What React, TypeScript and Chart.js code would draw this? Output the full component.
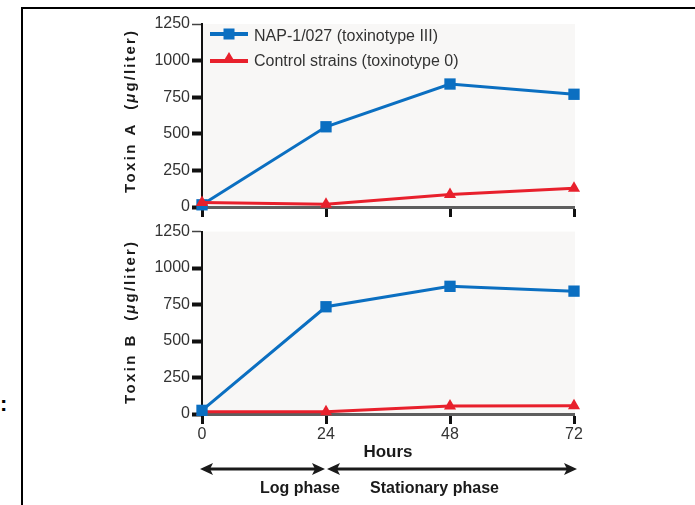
import { useEffect, useRef } from 'react';
import { Chart, registerables } from 'chart.js';

Chart.register(...registerables);

// Sampling times (hours) and toxin concentrations (µg/liter)
const hours = [0, 24, 48, 72];
const toxinANap = [15, 548, 840, 770];
const toxinACtrl = [30, 18, 85, 128];
const toxinBNap = [25, 735, 875, 842];
const toxinBCtrl = [15, 15, 55, 57];

const yTickValues = [0, 250, 500, 750, 1000, 1250];
const xTickValues = [0, 24, 48, 72];

const seriesLabels = ['NAP-1/027 (toxinotype III)', 'Control strains (toxinotype 0)'];
const panelTitles = ['Toxin A', 'Toxin B'];
const xTitle = 'Hours';
const phaseLabels = ['Log phase', 'Stationary phase'];

const BLUE = '#0b6fc1';
const RED = '#e8202c';
const TEXT = '#333333';
const DARK = '#1a1a1a';
const PLOT_BG = '#f8f7f6';
const FONT = "'Liberation Sans', Arial, sans-serif";

function drawYTitle(ctx: CanvasRenderingContext2D, cx: number, cy: number, name: string) {
  const parts: [string, string, number][] = [
    [name, `bold 15px ${FONT}`, 2.4],
    ['  (', `bold 15px ${FONT}`, 2.1],
    ['\u03bc', `italic bold 15px ${FONT}`, 2.1],
    ['g/liter)', `bold 15px ${FONT}`, 2.1],
  ];
  ctx.save();
  ctx.translate(cx, cy);
  ctx.rotate(-Math.PI / 2);
  ctx.fillStyle = DARK;
  ctx.textBaseline = 'middle';
  ctx.textAlign = 'left';
  const c = ctx as any;
  let total = 0;
  const widths = parts.map(([t, f, s]) => {
    ctx.font = f;
    c.letterSpacing = `${s}px`;
    const w = ctx.measureText(t).width;
    total += w;
    return w;
  });
  let x = -total / 2;
  parts.forEach(([t, f, s], i) => {
    ctx.font = f;
    c.letterSpacing = `${s}px`;
    ctx.fillText(t, x, 0);
    x += widths[i];
  });
  c.letterSpacing = '0px';
  ctx.restore();
}

function drawArrowHead(ctx: CanvasRenderingContext2D, tipX: number, y: number, dir: number) {
  const len = 13;
  const half = 6;
  ctx.beginPath();
  ctx.moveTo(tipX, y);
  ctx.lineTo(tipX - dir * len, y - half);
  ctx.lineTo(tipX - dir * (len - 3), y);
  ctx.lineTo(tipX - dir * len, y + half);
  ctx.closePath();
  ctx.fill();
}

function drawDoubleArrow(ctx: CanvasRenderingContext2D, x1: number, x2: number, y: number) {
  ctx.save();
  ctx.strokeStyle = DARK;
  ctx.fillStyle = DARK;
  ctx.lineWidth = 3;
  ctx.beginPath();
  ctx.moveTo(x1 + 6, y);
  ctx.lineTo(x2 - 6, y);
  ctx.stroke();
  drawArrowHead(ctx, x1, y, -1);
  drawArrowHead(ctx, x2, y, 1);
  ctx.restore();
}

function drawLegend(ctx: CanvasRenderingContext2D) {
  const x0 = 210;
  const x1 = 248;
  const cx = (x0 + x1) / 2;
  ctx.save();
  // NAP-1/027 entry
  ctx.strokeStyle = BLUE;
  ctx.fillStyle = BLUE;
  ctx.lineWidth = 4;
  ctx.beginPath();
  ctx.moveTo(x0, 34);
  ctx.lineTo(x1, 34);
  ctx.stroke();
  ctx.fillRect(cx - 5.5, 34 - 5.5, 11, 11);
  // Control strains entry
  ctx.strokeStyle = RED;
  ctx.fillStyle = RED;
  ctx.beginPath();
  ctx.moveTo(x0, 61);
  ctx.lineTo(x1, 61);
  ctx.stroke();
  ctx.beginPath();
  ctx.moveTo(cx, 52);
  ctx.lineTo(cx + 6, 62);
  ctx.lineTo(cx - 6, 62);
  ctx.closePath();
  ctx.fill();

  ctx.fillStyle = TEXT;
  ctx.font = `16px ${FONT}`;
  ctx.textAlign = 'left';
  ctx.textBaseline = 'alphabetic';
  ctx.fillText(seriesLabels[0], 254, 41);
  ctx.fillText(seriesLabels[1], 254, 66);
  ctx.restore();
}

type PanelOpts = {
  nap: number[];
  ctrl: number[];
  padTop: number;
  xHeight: number;
  showXLabels: boolean;
  title: string;
  titleY: number;
  redOnTop: boolean;
  decorate: (chart: any) => void;
};

function panelConfig(o: PanelOpts): any {
  const toPoints = (vals: number[]) => hours.map((h, i) => ({ x: h, y: vals[i] }));
  return {
    type: 'line',
    data: {
      datasets: [
        {
          label: seriesLabels[0],
          data: toPoints(o.nap),
          borderColor: BLUE,
          backgroundColor: BLUE,
          borderWidth: 3,
          pointStyle: 'rect',
          pointRadius: 8,
          pointBorderWidth: 0,
          tension: 0,
          clip: false,
          order: o.redOnTop ? 1 : 0,
        },
        {
          label: seriesLabels[1],
          data: toPoints(o.ctrl),
          borderColor: RED,
          backgroundColor: RED,
          borderWidth: 3,
          pointStyle: 'triangle',
          pointRadius: 7,
          pointBorderWidth: 0,
          tension: 0,
          clip: false,
          order: o.redOnTop ? 0 : 1,
        },
      ],
    },
    options: {
      responsive: false,
      animation: false,
      devicePixelRatio: 1,
      events: [],
      layout: { padding: { top: o.padTop, left: 0, right: 121, bottom: 0 } },
      plugins: { legend: { display: false }, tooltip: { enabled: false } },
      scales: {
        x: {
          type: 'linear',
          min: 0,
          max: 72,
          afterBuildTicks: (s: any) => {
            s.ticks = xTickValues.map((v) => ({ value: v }));
          },
          afterFit: (s: any) => {
            s.height = o.xHeight;
          },
          ticks: {
            display: o.showXLabels,
            color: TEXT,
            font: { family: FONT, size: 16 },
            padding: 1,
            maxRotation: 0,
            autoSkip: false,
          },
          grid: {
            drawOnChartArea: false,
            drawTicks: true,
            tickLength: 10,
            tickWidth: 3,
            tickColor: '#111',
          },
          border: { display: true, color: '#5e5e5e', width: 3 },
        },
        y: {
          type: 'linear',
          min: 0,
          max: 1250,
          afterBuildTicks: (s: any) => {
            s.ticks = yTickValues.map((v) => ({ value: v }));
          },
          afterFit: (s: any) => {
            s.width = 202;
          },
          ticks: {
            color: TEXT,
            font: { family: FONT, size: 16 },
            padding: 2,
            callback: (v: any) => String(v),
          },
          grid: {
            drawOnChartArea: false,
            drawTicks: true,
            tickLength: 10,
            tickWidth: (c: any) => (c.tick && c.tick.value === 1250 ? 1.5 : 4),
            tickColor: (c: any) => (c.tick && c.tick.value === 1250 ? '#444' : '#111'),
          },
          border: { display: true, color: '#111', width: 2 },
        },
      },
    },
    plugins: [
      {
        id: 'panelDecor',
        beforeDraw(chart: any) {
          const { ctx, chartArea } = chart;
          ctx.save();
          ctx.fillStyle = PLOT_BG;
          ctx.fillRect(chartArea.left, chartArea.top, chartArea.right - chartArea.left + 1, chartArea.bottom - chartArea.top);
          ctx.restore();
        },
        afterDraw(chart: any) {
          drawYTitle(chart.ctx, 131, o.titleY, o.title);
          o.decorate(chart);
        },
      },
    ],
  };
}

export default function App() {
  const topRef = useRef<HTMLCanvasElement>(null);
  const bottomRef = useRef<HTMLCanvasElement>(null);

  useEffect(() => {
    const top = new Chart(
      topRef.current!,
      panelConfig({
        nap: toxinANap,
        ctrl: toxinACtrl,
        padTop: 24,
        xHeight: 13,
        showXLabels: false,
        title: panelTitles[0],
        titleY: 111,
        redOnTop: true,
        decorate: (chart) => drawLegend(chart.ctx),
      })
    );
    const bottom = new Chart(
      bottomRef.current!,
      panelConfig({
        nap: toxinBNap,
        ctrl: toxinBCtrl,
        padTop: 11,
        xHeight: 91,
        showXLabels: true,
        title: panelTitles[1],
        titleY: 102,
        redOnTop: false,
        decorate: (chart) => {
          const ctx = chart.ctx as CanvasRenderingContext2D;
          const xs = chart.scales.x;
          const area = chart.chartArea;
          const xStart = xs.getPixelForValue(xTickValues[0]) - 2;
          const xMid = xs.getPixelForValue(xTickValues[1]);
          const xEnd = xs.getPixelForValue(xTickValues[3]) + 3;
          ctx.save();
          ctx.fillStyle = DARK;
          ctx.textAlign = 'center';
          ctx.textBaseline = 'alphabetic';
          ctx.font = `bold 17px ${FONT}`;
          ctx.fillText(xTitle, (area.left + area.right) / 2, 237);
          ctx.font = `bold 16px ${FONT}`;
          ctx.textAlign = 'right';
          ctx.fillText(phaseLabels[0], xMid + 14, 273);
          ctx.textAlign = 'left';
          ctx.fillText(phaseLabels[1], xMid + 44, 273);
          ctx.restore();
          drawDoubleArrow(ctx, xStart, xMid - 1, 249);
          drawDoubleArrow(ctx, xMid + 1, xEnd, 249);
        },
      })
    );
    return () => {
      top.destroy();
      bottom.destroy();
    };
  }, []);

  return (
    <div
      style={{
        position: 'absolute',
        left: 0,
        top: 0,
        width: 695,
        height: 505,
        background: '#fff',
        overflow: 'hidden',
      }}
    >
      <div
        style={{
          position: 'absolute',
          left: 21,
          top: 7,
          width: 695,
          height: 505,
          borderLeft: '2px solid #000',
          borderTop: '2px solid #000',
        }}
      />
      <div
        style={{
          position: 'absolute',
          left: 0,
          top: 393,
          font: `bold 22px ${FONT}`,
          color: '#000',
          lineHeight: '22px',
        }}
      >
        :
      </div>
      <canvas
        ref={topRef}
        width={695}
        height={220}
        style={{ position: 'absolute', left: 0, top: 0, width: 695, height: 220 }}
      />
      <canvas
        ref={bottomRef}
        width={695}
        height={285}
        style={{ position: 'absolute', left: 0, top: 220, width: 695, height: 285 }}
      />
    </div>
  );
}
